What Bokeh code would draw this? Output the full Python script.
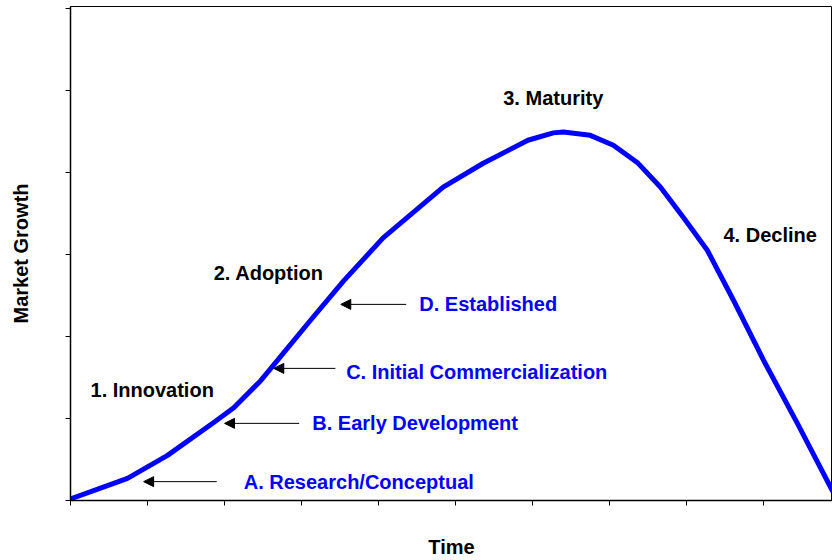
from bokeh.plotting import figure
from bokeh.models import ColumnDataSource, Arrow, NormalHead, FixedTicker, Range1d
from bokeh.core.properties import value
from bokeh.embed import file_html
from bokeh.resources import INLINE

# Curve (time, market growth)
curve_x = [0.00, 0.30, 0.74, 1.26, 1.86, 2.12, 2.47, 3.12, 3.55, 4.06, 4.64, 4.84, 5.36,
           5.94, 6.27, 6.40, 6.75, 7.05, 7.36, 7.66, 7.96, 8.27, 8.61, 9.00, 9.44, 9.90]
curve_y = [0.02, 0.12, 0.27, 0.55, 0.95, 1.13, 1.46, 2.20, 2.68, 3.20, 3.66, 3.82, 4.11,
           4.39, 4.48, 4.49, 4.45, 4.33, 4.12, 3.82, 3.45, 3.05, 2.44, 1.71, 0.94, 0.11]

# Stage labels (black)
stage_labels = ["1. Innovation", "2. Adoption", "3. Maturity", "4. Decline"]
stage_x = [0.26, 1.86, 5.62, 8.48]
stage_y = [1.35, 2.77, 4.90, 3.23]

# Phase labels (blue)
phase_labels = ["A. Research/Conceptual", "B. Early Development",
                "C. Initial Commercialization", "D. Established"]
phase_x = [2.25, 3.14, 3.58, 4.53]
phase_y = [0.23, 0.95, 1.57, 2.40]

# Arrows (tail -> tip)
arrow_x0 = [1.90, 2.97, 3.44, 4.36]
arrow_x1 = [0.95, 2.00, 2.64, 3.51]
arrow_y = [0.23, 0.94, 1.61, 2.39]

x_ticks = [0, 1, 2, 3, 4, 5, 6, 7, 8, 9]
y_ticks = [0, 1, 2, 3, 4, 5, 6]

FONT = "Liberation Sans"

p = figure(width=832, height=560, output_backend="svg", toolbar_location=None,
           x_range=Range1d(0, 9.896), y_range=Range1d(0, 6.02),
           min_border_left=70, min_border_right=0, min_border_top=6, min_border_bottom=60)
p.background_fill_color = "white"
p.border_fill_color = "white"
p.outline_line_color = "black"
p.outline_line_width = 1
p.grid.visible = False

for ax, ticks in ((p.xaxis, x_ticks), (p.yaxis, y_ticks)):
    ax.ticker = FixedTicker(ticks=ticks)
    ax.major_tick_in = 0
    ax.major_tick_out = 5
    ax.minor_tick_out = 0
    ax.minor_tick_in = 0
    ax.major_label_overrides = {t: "" for t in ticks}
    ax.major_label_text_font_size = "10px"
    ax.major_label_standoff = 0
    ax.axis_line_color = "black"
    ax.axis_line_width = 1.5
    ax.major_tick_line_color = "black"
    ax.axis_label_text_font = FONT
    ax.axis_label_text_font_style = "bold"
    ax.axis_label_text_font_size = "20px"
    ax.axis_label_text_color = "black"

p.xaxis.axis_label = "Time"
p.xaxis.axis_label_standoff = 30
p.yaxis.axis_label = "Market Growth"
p.yaxis.axis_label_standoff = 34

p.line(curve_x, curve_y, line_color="#0000FF", line_width=5, line_join="round")

asrc = ColumnDataSource(dict(x0=arrow_x0, x1=arrow_x1, y=arrow_y))
p.add_layout(Arrow(source=asrc, x_start="x0", y_start="y", x_end="x1", y_end="y",
                   line_color="black", line_width=1,
                   end=NormalHead(size=10, fill_color="black", line_color="black")))

ssrc = ColumnDataSource(dict(x=stage_x, y=stage_y, t=stage_labels))
psrc = ColumnDataSource(dict(x=phase_x, y=phase_y, t=phase_labels))
p.text(x="x", y="y", text="t", source=ssrc, text_font=value(FONT), text_font_style="bold",
       text_font_size="20px", text_color="black", text_align="left", text_baseline="middle")
p.text(x="x", y="y", text="t", source=psrc, text_font=value(FONT), text_font_style="bold",
       text_font_size="20px", text_color="#0000FF", text_align="left", text_baseline="middle")

open("out.html", "w").write(file_html(p, INLINE))
